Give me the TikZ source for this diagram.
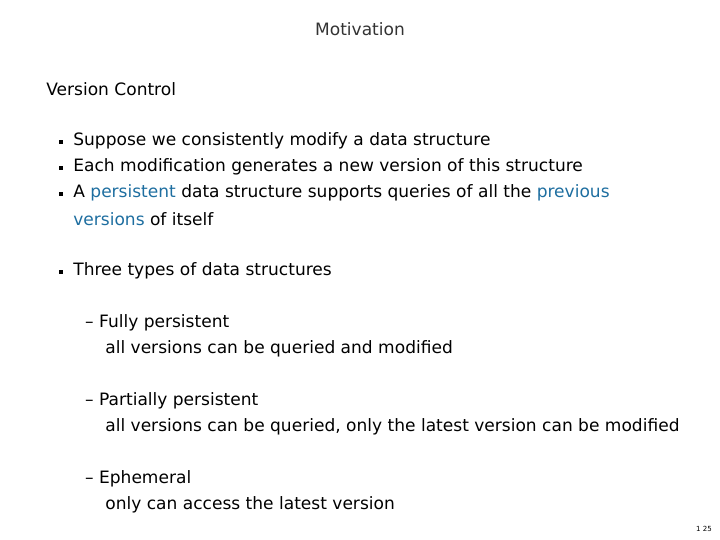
\documentclass[tikz,border=0pt]{standalone}
\usepackage{fontspec}
\setmainfont{DejaVu Sans}
\usetikzlibrary{positioning}
\definecolor{hl}{RGB}{30,110,160}
\begin{document}
\begin{tikzpicture}[x=0.02cm, y=-0.02cm,
    txt/.style={anchor=west, inner sep=0pt, font=\fontsize{9.7}{12}\selectfont},
    bul/.style={fill=black, minimum size=2.6pt, inner sep=0pt}]
  \useasboundingbox (0,0) rectangle (720,540);

  % title
  \node (title) [inner sep=0pt, font=\fontsize{9.7}{12}\selectfont, text=black!80] at (360,29) {Motivation};
  \node (head) [txt] at (46,89) {Version Control};

  % bullets
  \foreach \y/\t [count=\i] in {141/Suppose we consistently modify a data structure,
      167/Each modification generates a new version of this structure,
      271/Three types of data structures} {
    \node (b\i) [bul] at (61,\y+1) {};
    \node (t\i) [txt] at (73,\y) {\t};
  }
  \node (b4) [bul] at (61,194) {};
  \node (t4) [txt] at (73,193) {A \textcolor{hl}{persistent} data structure supports queries of all the \textcolor{hl}{previous}};
  \node (t5) [txt] at (73,219) {\textcolor{hl}{versions} of itself};

  % types
  \node (f1) [txt] at (82,323) {\,-- Fully persistent};
  \node (f2) [txt] at (105,349) {all versions can be queried and modified};
  \node (p1) [txt] at (82,401) {\,-- Partially persistent};
  \node (p2) [txt] at (105,427) {all versions can be queried, only the latest version can be modified};
  \node (e1) [txt] at (82,479) {\,-- Ephemeral};
  \node (e2) [txt] at (105,505) {only can access the latest version};

  \node (page) [inner sep=0pt, font=\fontsize{4}{5}\selectfont] at (704,529) {1 25};
\end{tikzpicture}
\end{document}
